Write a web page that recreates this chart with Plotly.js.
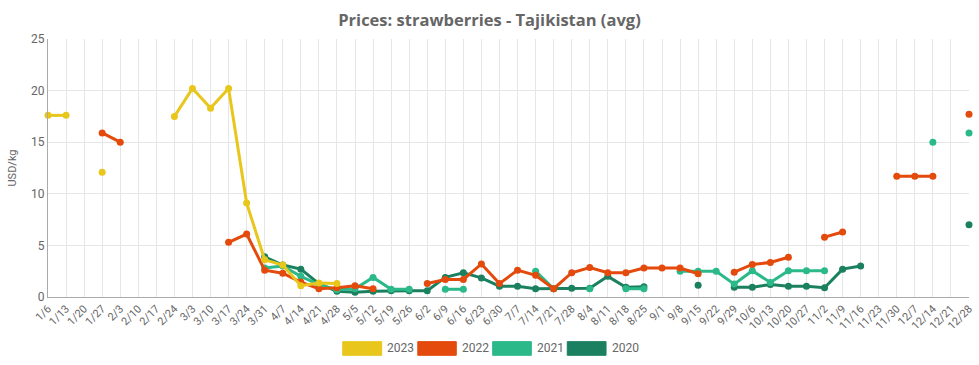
<!DOCTYPE html>
<html>
<head>
<meta charset="utf-8">
<script src="https://cdn.plot.ly/plotly-3.0.1.min.js"></script>
<style>html,body{margin:0;padding:0;background:#fff;}#chart{width:979px;height:365px;}</style>
</head>
<body>
<div id="chart"></div>
<script>
const weeks = ["1/6","1/13","1/20","1/27","2/3","2/10","2/17","2/24","3/3","3/10","3/17","3/24","3/31","4/7","4/14","4/21","4/28","5/5","5/12","5/19","5/26","6/2","6/9","6/16","6/23","6/30","7/7","7/14","7/21","7/28","8/4","8/11","8/18","8/25","9/1","9/8","9/15","9/22","9/29","10/6","10/13","10/20","10/27","11/2","11/9","11/16","11/23","11/30","12/7","12/14","12/21","12/28"];

const years = ["2023","2022","2021","2020"];

const p2023 = [17.6,17.6,null,12.1,null,null,null,17.5,20.2,18.3,20.2,9.1,3.6,3.1,1.1,1.35,1.3,
  null,null,null,null,null,null,null,null,null,null,null,null,null,null,null,null,null,null,null,null,null,null,null,null,null,null,null,null,null,null,null,null,null,null,null];

const p2022 = [null,null,null,15.9,15.0,null,null,null,null,null,5.3,6.1,2.6,2.3,1.45,0.8,0.9,1.1,0.8,null,null,
  1.3,1.7,1.7,3.2,1.3,2.6,2.1,0.8,2.35,2.85,2.35,2.35,2.8,2.8,2.8,2.25,null,2.4,3.15,3.35,3.85,null,5.8,6.3,null,null,11.7,11.7,11.7,null,17.7];

const p2021 = [null,null,null,null,null,null,null,null,null,null,null,null,2.8,3.0,2.0,1.2,0.7,0.8,1.9,0.75,0.75,
  null,0.75,0.75,null,null,null,2.5,0.8,null,0.8,null,0.8,0.8,null,2.5,2.5,2.5,1.25,2.55,1.4,2.55,2.55,2.55,null,null,null,null,null,15.0,null,15.9];

const p2020 = [null,null,null,null,null,null,null,null,null,null,null,null,3.9,3.1,2.7,1.3,0.55,0.45,0.55,0.6,0.6,
  0.6,1.9,2.35,1.85,1.05,1.05,0.8,0.8,0.85,0.85,2.0,0.95,1.0,null,null,1.15,null,0.95,0.95,1.2,1.05,1.05,0.9,2.7,3.0,null,null,null,null,null,7.0];

const yTicks = [0,5,10,15,20,25];

const colors = {"2023":"#e8c61c","2022":"#e34a0c","2021":"#2bb98a","2020":"#1b805f"};
const series = {"2023":p2023,"2022":p2022,"2021":p2021,"2020":p2020};

const traces = ["2020","2021","2022","2023"].map(function(y){
  return {
    type:"scatter", mode:"lines+markers", name:y,
    x: weeks, y: series[y],
    line:{color:colors[y], width:3},
    marker:{color:colors[y], size:7},
    cliponaxis:false, showlegend:false, connectgaps:false
  };
});

// custom legend (swatches + labels)
const legendX = [[0.320,0.3623],[0.4015,0.4433],[0.4828,0.5248],[0.5638,0.6059]];
const shapes = years.map(function(y,i){
  return {type:"rect", xref:"paper", yref:"paper", x0:legendX[i][0], x1:legendX[i][1], y0:-0.226, y1:-0.173,
    fillcolor:colors[y], line:{color:colors[y], width:1}, opacity:1};
});
const annotations = years.map(function(y,i){
  return {xref:"paper", yref:"paper", x:legendX[i][1]+0.004, y:-0.1995, xanchor:"left", yanchor:"middle",
    text:y, showarrow:false, font:{family:"Roboto, sans-serif", size:12, color:"#666"}};
});

const layout = {
  width:979, height:365,
  margin:{l:48, r:10, t:39, b:68},
  paper_bgcolor:"#fff", plot_bgcolor:"#fff",
  title:{text:"<b>Prices: strawberries - Tajikistan (avg)</b>", x:0.5, xanchor:"center", y:0.945, yanchor:"middle",
    font:{family:"Open Sans, sans-serif", size:16.5, color:"#666"}},
  xaxis:{type:"category", range:[0,51], tickangle:-45, showgrid:true, gridcolor:"#e6e6e6", gridwidth:1,
    showline:true, linecolor:"#aaa", linewidth:1, zeroline:false, ticks:"",
    tickfont:{family:"Roboto, sans-serif", size:11, color:"#666"}, fixedrange:true},
  yaxis:{range:[0,25], tickvals:yTicks, showgrid:true, gridcolor:"#e6e6e6", gridwidth:1,
    showline:true, linecolor:"#aaa", linewidth:1, zeroline:false, ticks:"",
    title:{text:"USD/kg", font:{family:"Roboto, sans-serif", size:11, color:"#666"}, standoff:12},
    tickfont:{family:"Roboto, sans-serif", size:12, color:"#666"}, fixedrange:true},
  shapes:shapes, annotations:annotations,
  showlegend:false
};

Plotly.newPlot("chart", traces, layout, {displayModeBar:false, staticPlot:true});
</script>
</body>
</html>
